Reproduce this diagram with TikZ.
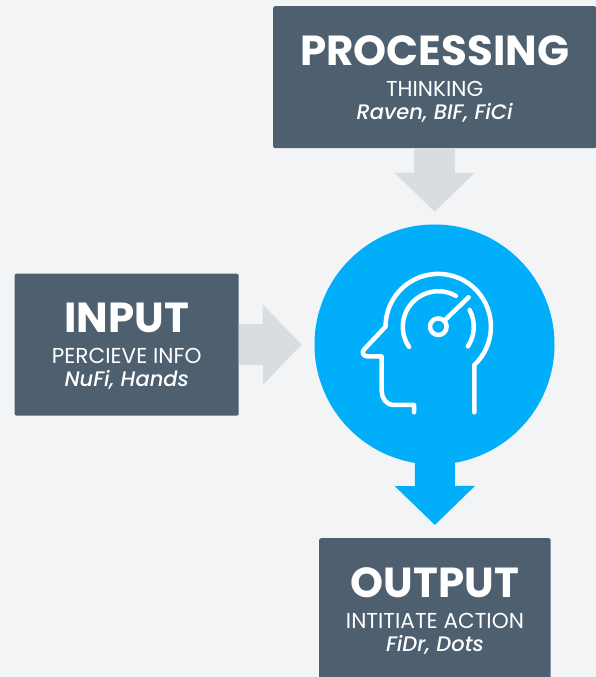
\documentclass[tikz,border=0pt]{standalone}
\usepackage{fontspec}
\setmainfont{Poppins}
\newfontfamily\medfont[ItalicFont={Poppins Medium Italic},UprightFont={Poppins Medium}]{Poppins Medium}
\usetikzlibrary{arrows.meta,calc}
\definecolor{bgc}{HTML}{F3F4F6}
\definecolor{boxc}{HTML}{4E5F6F}
\definecolor{arrc}{HTML}{DADDE0}
\definecolor{bluec}{HTML}{00AEFA}
\tikzset{
  x=1pt,y=1pt,
  panel/.style={fill=boxc,rounded corners=2pt,inner sep=0pt,anchor=north west},
  title/.style={text=white,anchor=base,inner sep=0pt,font=\fontsize{42}{42}\selectfont\bfseries},
  sub/.style={text=white,anchor=base,inner sep=0pt,font=\fontsize{21.6}{22}\selectfont},
  ital/.style={text=white,anchor=base,inner sep=0pt,font=\medfont\fontsize{21}{21}\selectfont\itshape},
  blockgrey/.style={arrc,line width=41pt,-{Triangle[width=78pt,length=39pt]},shorten >=12.5pt},
  blockblue/.style={bluec,line width=40pt,-{Triangle[width=78pt,length=39pt]},shorten >=13pt},
  icon/.style={white,line width=4.5pt,line cap=round,line join=round},
}
\begin{document}
\begin{tikzpicture}
\useasboundingbox (0,0) rectangle (596,677);
\fill[bgc] (0,0) rectangle (596,677);
% panels (y = 677 - pixel y)
\node[panel,minimum width=323pt,minimum height=142pt] (proc) at (273,671) {};
\node[panel,minimum width=224pt,minimum height=142pt] (inp) at (14.5,403.5) {};
\node[panel,minimum width=231.5pt,minimum height=142pt] (outp) at (319,139) {};
\node[circle,fill=bluec,minimum size=240pt,inner sep=0pt] (brain) at (434.5,332.5) {};
% connectors
\draw[blockgrey] (proc.south) -- (brain.north);
\draw[blockgrey] (inp.east) -- (brain.west);
\draw[blockblue] (brain.center) -- (outp.north);
% text
\node[title] (t1) at ($(proc.north)+(0,-59.5)$) {PROCESSING};
\node[sub]   (s1) at ($(proc.north)+(0,-90.5)$) {THINKING};
\node[ital]  (i1) at ($(proc.north)+(0,-113.5)$) {Raven, BIF, FiCi};
\node[title] (t2) at ($(inp.north)+(0,-59.5)$) {INPUT};
\node[sub]   (s2) at ($(inp.north)+(0,-90.5)$) {PERCIEVE INFO};
\node[ital]  (i2) at ($(inp.north)+(0,-113.5)$) {NuFi, Hands};
\node[title] (t3) at ($(outp.north)+(0,-59.5)$) {OUTPUT};
\node[sub]   (s3) at ($(outp.north)+(0,-90.5)$) {INTITIATE ACTION};
\node[ital]  (i3) at ($(outp.north)+(0,-113.5)$) {FiDr, Dots};
% head icon
\coordinate (c) at (438.3,350.3);
\draw[icon] (474.3,264.7) -- (474.3,312)
  arc (-46.8:180:52.7) -- (364.5,328) .. controls (361,325) and (363,320.5) .. (368,320.5)
  -- (381.7,320.5) -- (381.7,286) .. controls (381.7,279) and (386,272) .. (394,272)
  -- (414,272) -- (414,264.7);
\draw[icon] ($(c)+(214.6:35.5)$) arc (214.6:60.3:35.5);
\draw[icon] ($(c)+(28:35.5)$) arc (28:-33.7:35.5);
\draw[icon] (c) circle (8.3);
\draw[icon] ($(c)+(45:8.3)$) -- (468.6,379.7);
\end{tikzpicture}
\end{document}
